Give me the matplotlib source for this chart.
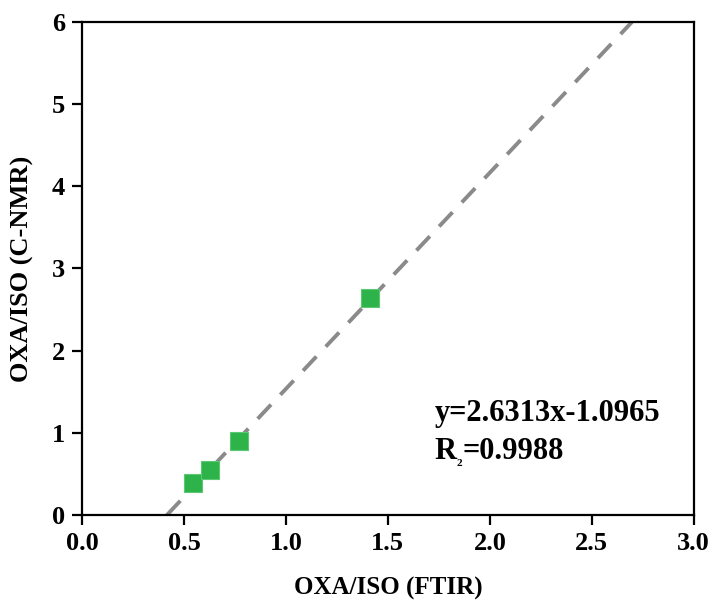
import numpy as np
import matplotlib
matplotlib.use('Agg')
import matplotlib.pyplot as plt

plt.rcParams['font.family'] = ['Liberation Serif', 'DejaVu Serif']
plt.rcParams['font.weight'] = 'bold'

# OXA/ISO ratio measured both ways
ftir = [0.544, 0.627, 0.77, 1.41]
cnmr = [0.39, 0.547, 0.90, 2.64]

slope = 2.6313
intercept = -1.0965
r2 = '0.9988'

fig = plt.figure(figsize=(7.13, 6.03), dpi=100)
ax = fig.add_axes([0.115, 0.146, 0.858, 0.8175])

# fitted line, clipped to the y range
y_fit = np.array([0.0, 6.0])
x_fit = (y_fit - intercept) / slope
ax.plot(x_fit, y_fit, ls=(0, (5, 3.5)), color='#8a8a8a', lw=2.8, zorder=2)

ax.scatter(ftir, cnmr, marker='s', s=150, color='#2db34a', edgecolors='#5cc874',
           linewidths=0.8, zorder=3)

ax.set_xlim(0, 3.0)
ax.set_ylim(0, 6)
ax.set_xticks(np.arange(0, 3.01, 0.5))
ax.set_xticklabels(['%.1f' % v for v in np.arange(0, 3.01, 0.5)])
ax.set_yticks(range(7))

for s in ax.spines.values():
    s.set_linewidth(1.6)
ax.tick_params(direction='out', length=7, width=1.6, labelsize=19, pad=5)

ax.set_xlabel('OXA/ISO (FTIR)', fontsize=18, fontweight='bold', labelpad=16)
ax.set_ylabel('OXA/ISO (C-NMR)', fontsize=19, fontweight='bold', labelpad=13)

ax.text(1.73, 1.24, 'y=%.4fx%.4f' % (slope, intercept), fontsize=22,
        fontweight='bold', va='center', ha='left')

# R with a tiny subscript 2, then the value
t = ax.text(1.73, 0.77, 'R', fontsize=22, fontweight='bold', va='center', ha='left')
fig.canvas.draw()
bb = t.get_window_extent().transformed(ax.transData.inverted())
sub = ax.text(bb.x1, 0.63, '2', fontsize=8, fontweight='bold', va='center', ha='left')
bb2 = sub.get_window_extent(fig.canvas.get_renderer()).transformed(ax.transData.inverted())
ax.text(bb2.x1, 0.77, '=' + r2, fontsize=22, fontweight='bold', va='center', ha='left')

fig.savefig('out.png', dpi=100)
